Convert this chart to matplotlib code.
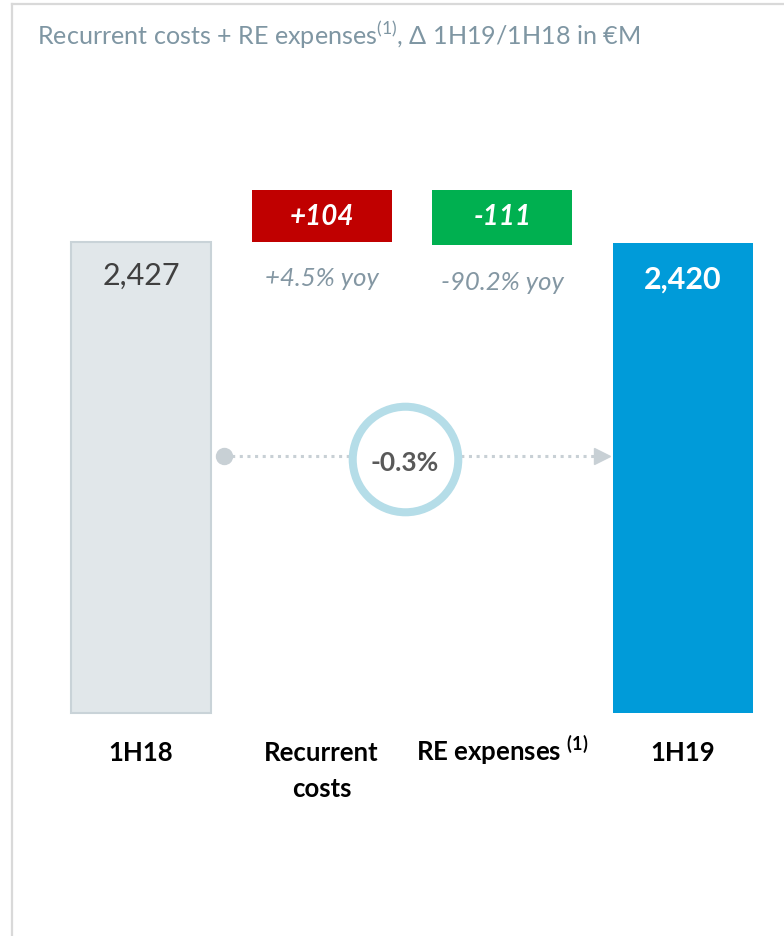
import matplotlib.pyplot as plt
from matplotlib.lines import Line2D

plt.rcParams['font.family'] = ['Lato', 'DejaVu Sans']
plt.rcParams['mathtext.fontset'] = 'custom'
plt.rcParams['mathtext.rm'] = 'Lato'
plt.rcParams['mathtext.bf'] = 'Lato:bold'

# data
categories = ['1H18', 'Recurrent\ncosts', 'RE expenses $^{\\mathbf{(1)}}$', '1H19']
start_value = 2427
end_value = 2420
deltas = [104, -111]
delta_labels = ['+104', '-111']
yoy_labels = ['+4.5% yoy', '-90.2% yoy']
total_change = '-0.3%'
title = 'Recurrent costs + RE expenses$^{\\mathrm{(1)}}$, Δ 1H19/1H18 in €M'

W, H = 784, 937
fig = plt.figure(figsize=(W / 100, H / 100), dpi=100)
ax = fig.add_axes([0, 0, 1, 1])
ax.axis('off')

# pixel layout helpers (category 0 centred at x=141, spacing ~180.7px, zero line at y=714)
PX = 180.67
K = start_value / 471.0


def xpx(p):
    return (p - 141) / PX


def ypx(p):
    return (714 - p) * K


ax.set_xlim(xpx(0), xpx(W))
ax.set_ylim(ypx(H), ypx(0))

# frame
fig.add_artist(Line2D([12 / W, 1], [1 - 5 / H, 1 - 5 / H], color='#D9D9D9', lw=1.6))
fig.add_artist(Line2D([12 / W, 12 / W], [0, 1 - 5 / H], color='#D9D9D9', lw=1.6))

fig.text(37 / W, 1 - 35 / H, title, color='#7F96A3', fontsize=18.1, va='center', ha='left')

# start / end bars
ax.bar(0, start_value, width=0.78, color='#E1E7EA', edgecolor='#C9D3D8', linewidth=1.5)
ax.bar(3, end_value, width=0.78, color='#009BD9')
ax.text(0, ypx(276), f'{start_value:,}', ha='center', va='center', fontsize=22, color='#404040')
ax.text(3, ypx(280), f'{end_value:,}', ha='center', va='center', fontsize=22, color='white',
        fontweight='bold')

# delta boxes
box_colors = ['#C00000', '#00B050']
box_bottoms = [ypx(243), ypx(246)]
for i, (d, lab, yoy) in enumerate(zip(deltas, delta_labels, yoy_labels)):
    x = i + 1
    ax.bar(x, ypx(191) - box_bottoms[i], bottom=box_bottoms[i], width=0.775, color=box_colors[i])
    ax.text(x, ypx(217), lab, ha='center', va='center', fontsize=20, color='white',
            fontweight='bold', fontstyle='italic')
    ax.text(x, ypx(278 + 4 * i), yoy, ha='center', va='center', fontsize=18.5, color='#8497A3',
            fontstyle='italic')

# dotted connector with circle
yl = ypx(457)
ax.plot([xpx(224), xpx(598)], [yl, yl], ls=(0, (1, 1.5)), color='#C8D0D5', lw=2.2, zorder=2)
ax.plot(xpx(224), yl, 'o', ms=11.5, color='#C8D0D5', zorder=3)
ax.plot(xpx(602), yl, '>', ms=12, color='#C8D0D5', zorder=3)
ax.plot(xpx(405), ypx(460), 'o', ms=76, mfc='white', mec='#B5DDE8', mew=5.8, zorder=4)
ax.text(xpx(405), ypx(463), total_change, ha='center', va='center', fontsize=19,
        fontweight='bold', color='#595959', zorder=5)

# category labels (first line baselines aligned)
for i, c in enumerate(categories):
    lines = c.split('\n')
    for j, line in enumerate(lines):
        ax.text(i, ypx(761 + 36 * j), line, ha='center', va='baseline', fontsize=18.5,
                fontweight='bold', color='black')

fig.savefig('out.png', dpi=100)
